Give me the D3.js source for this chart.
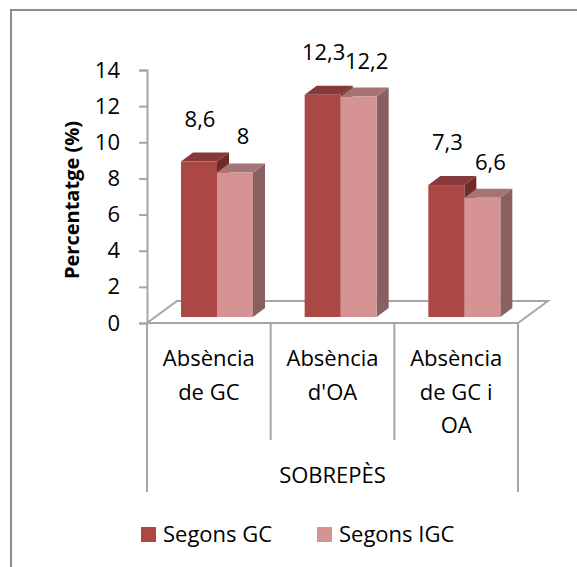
<!DOCTYPE html>
<html><head><meta charset="utf-8">
<script src="https://cdn.jsdelivr.net/npm/d3@7"></script>
<style>body{margin:0;background:#fff}svg{display:block}text{font-family:"Open Sans",sans-serif;fill:#000}</style>
</head><body>
<svg id="c" width="577" height="567"></svg>
<script>
const categories = [["Absència","de GC"],["Absència","d'OA"],["Absència","de GC i","OA"]];
const seriesNames = ["Segons GC","Segons IGC"];
const segonsGC = [8.6, 12.3, 7.3];
const segonsIGC = [8, 12.2, 6.6];
const yTicks = [0,2,4,6,8,10,12,14];
const groupLabel = "SOBREPÈS";
const yTitle = "Percentatge (%)";

const svg = d3.select("#c");
const FS=22;
svg.append("rect").attr("x",11).attr("y",10).attr("width",620).attr("height",620)
  .attr("fill","#fff").attr("stroke","#8c8c8c").attr("stroke-width",2);

const x0=147,x1=518,yTop=70,yBot=323;
const depthX=30, depthY=22;
const y = d3.scaleLinear().domain([0,14]).range([yBot,yTop]);
const xc = d3.scaleBand().domain(d3.range(categories.length)).range([x0,x1]).paddingInner(0).paddingOuter(0);
const xs = d3.scaleBand().domain(d3.range(seriesNames.length)).range([34,106]);

const grey="#a6a6a6";
// floor
svg.append("path").attr("d",`M${x0},${yBot}L${x0+depthX},${yBot-depthY}L${x1+depthX},${yBot-depthY}L${x1},${yBot}Z`)
 .attr("fill","#fff").attr("stroke",grey).attr("stroke-width",2);

// y axis
const ax = svg.append("g").attr("transform",`translate(${x0},0)`)
 .call(d3.axisLeft(y).tickValues(yTicks).tickSize(8).tickPadding(19).tickFormat(d3.format("d")));
ax.select(".domain").attr("stroke",grey).attr("stroke-width",2);
ax.selectAll(".tick line").attr("stroke",grey).attr("stroke-width",2);
ax.selectAll(".tick text").attr("font-size",FS).attr("font-family","'Open Sans',sans-serif").attr("fill","#000");

svg.append("text").attr("transform",`translate(79,200) rotate(-90)`).attr("text-anchor","middle")
 .attr("font-size",20).attr("font-weight","bold").text(yTitle);

// bars
const colors=[{front:"#ab4744",top:"#86383a",side:"#6f2a2a"},{front:"#d59393",top:"#a67475",side:"#886060"}];
const bdx=12,bdy=9,shift=6;
const data=[segonsGC,segonsIGC];
categories.forEach((c,i)=>{
  data.forEach((vals,s)=>{
    const v=vals[i];
    const bx=xc(i)+xs(s), bw=xs.bandwidth();
    const yt=y(v)-shift, yb=y(0)-shift;
    const g=svg.append("g");
    g.append("path").attr("d",`M${bx+bw},${yt}L${bx+bw+bdx},${yt-bdy}L${bx+bw+bdx},${yb-bdy}L${bx+bw},${yb}Z`).attr("fill",colors[s].side);
    g.append("path").attr("d",`M${bx},${yt}L${bx+bdx},${yt-bdy}L${bx+bw+bdx},${yt-bdy}L${bx+bw},${yt}Z`).attr("fill",colors[s].top);
    g.append("rect").attr("x",bx).attr("y",yt).attr("width",bw).attr("height",yb-yt).attr("fill",colors[s].front);
  });
});
// data labels
const fmt=v=>String(v).replace(".",",");
categories.forEach((c,i)=>{
  data.forEach((vals,s)=>{
    const v=vals[i];
    const cx=xc(i)+xs(s)+xs.bandwidth()/2 + (s===0?1:8);
    const yt=y(v)-shift-bdy;
    svg.append("text").attr("x",cx).attr("y",yt-(s===0?34:27)+8).attr("text-anchor","middle")
      .attr("font-size",FS).text(fmt(v));
  });
});

// category dividers
const divs=d3.range(categories.length+1).map(i=>i<categories.length?xc(i):x1);
divs.forEach((d,i)=>{
  const outer=(i===0||i===categories.length);
  svg.append("line").attr("x1",d).attr("x2",d).attr("y1",yBot).attr("y2",outer?492:440)
   .attr("stroke",grey).attr("stroke-width",2);
});
categories.forEach((lines,i)=>{
  const cx=xc(i)+xc.bandwidth()/2;
  lines.forEach((t,j)=>{
    svg.append("text").attr("x",cx).attr("y",366+j*33.5).attr("text-anchor","middle").attr("font-size",FS).text(t);
  });
});
svg.append("text").attr("x",(x0+x1)/2).attr("y",483).attr("text-anchor","middle").attr("font-size",FS).text(groupLabel);

// legend
const legX=[141,317];
seriesNames.forEach((n,s)=>{
  svg.append("rect").attr("x",legX[s]).attr("y",527).attr("width",15).attr("height",15).attr("fill",colors[s].front);
  svg.append("text").attr("x",legX[s]+22).attr("y",542).attr("font-size",FS).text(n);
});
</script>
</body></html>
